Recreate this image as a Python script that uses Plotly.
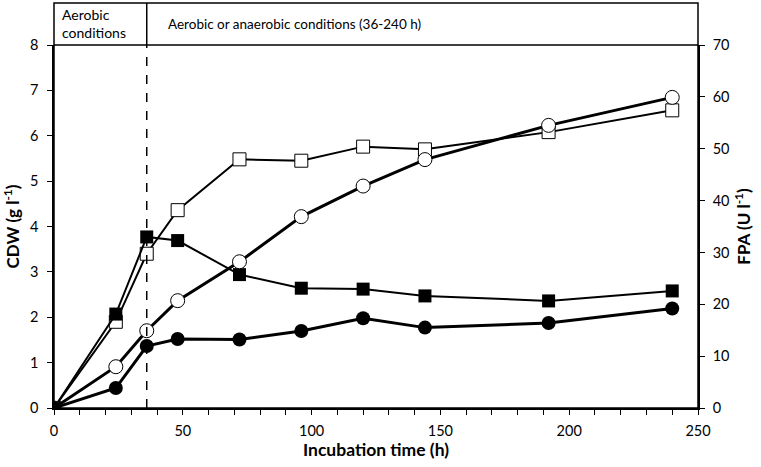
import plotly.graph_objects as go

# sampling times (h)
hours = [0, 24, 36, 48, 72, 96, 120, 144, 192, 240]

# cell dry weight (g l-1), left axis
cdw_filled = [0, 2.07, 3.77, 3.69, 2.94, 2.64, 2.62, 2.47, 2.36, 2.58]
cdw_open = [0, 1.90, 3.40, 4.36, 5.48, 5.45, 5.76, 5.70, 6.08, 6.56]

# filter paper activity (U l-1), right axis
fpa_filled = [0, 3.85, 11.95, 13.3, 13.2, 14.85, 17.3, 15.5, 16.4, 19.2]
fpa_open = [0, 7.96, 14.9, 20.7, 28.2, 36.9, 42.8, 47.9, 54.5, 59.9]

FONT = "Lato"


def main():
    fig = go.Figure()

    # squares (CDW)
    fig.add_trace(go.Scatter(
        x=hours, y=cdw_open, mode="lines+markers",
        line=dict(color="black", width=2),
        marker=dict(symbol="square", size=13, color="white",
                    line=dict(color="black", width=1)),
        showlegend=False))
    fig.add_trace(go.Scatter(
        x=hours, y=cdw_filled, mode="lines+markers",
        line=dict(color="black", width=2),
        marker=dict(symbol="square", size=13, color="black"),
        showlegend=False))

    # circles (FPA)
    fig.add_trace(go.Scatter(
        x=hours, y=fpa_open, mode="lines+markers", yaxis="y2",
        line=dict(color="black", width=3),
        marker=dict(symbol="circle", size=14, color="white",
                    line=dict(color="black", width=1)),
        showlegend=False))
    fig.add_trace(go.Scatter(
        x=hours, y=fpa_filled, mode="lines+markers", yaxis="y2",
        line=dict(color="black", width=3),
        marker=dict(symbol="circle", size=14, color="black"),
        showlegend=False))

    head = 1 + 42 / 363
    mid = (1 + head) / 2

    shapes = [
        # outer box incl. header
        dict(type="rect", xref="paper", yref="paper", x0=0, x1=1, y0=0, y1=head,
             line=dict(color="black", width=1.5)),
        dict(type="line", xref="paper", yref="paper", x0=0, x1=1, y0=1, y1=1,
             line=dict(color="black", width=1.5)),
        dict(type="line", xref="x", yref="paper", x0=36, x1=36, y0=1, y1=head,
             line=dict(color="black", width=1.5)),
        dict(type="line", xref="x", yref="paper", x0=36, x1=36, y0=0, y1=1,
             line=dict(color="black", width=1.5, dash="dash")),
    ]

    annotations = [
        dict(text="Aerobic<br>conditions", xref="x", yref="paper", x=2.5, y=mid,
             xanchor="left", yanchor="middle", showarrow=False, align="left",
             font=dict(size=14, color="black")),
        dict(text="Aerobic or anaerobic conditions (36-240 h)", xref="x", yref="paper",
             x=43.3, y=mid, xanchor="left", yanchor="middle", showarrow=False,
             font=dict(size=13.5, color="black")),
    ]

    fig.update_layout(
        width=761, height=467,
        margin=dict(l=54, r=63, t=45, b=59),
        paper_bgcolor="white", plot_bgcolor="white",
        font=dict(family=FONT, size=14.5, color="black"),
        shapes=shapes, annotations=annotations,
        xaxis=dict(
            range=[0, 250], dtick=50, tick0=0,
            ticks="outside", ticklen=5, tickwidth=1, tickcolor="black",
            ticklabelstandoff=4,
            minor=dict(dtick=10, ticks="outside", ticklen=5, tickcolor="black"),
            showgrid=False, zeroline=False, automargin=False,
            showline=True, linecolor="black", linewidth=1.5,
            title=dict(text="<b>Incubation time (h)</b>", standoff=4, font=dict(size=17.5)),
        ),
        yaxis=dict(
            range=[0, 8], dtick=1,
            ticks="outside", ticklen=5, tickcolor="black", ticklabelstandoff=6,
            showgrid=False, zeroline=False, automargin=False,
            showline=True, linecolor="black", linewidth=1.5,
            title=dict(text="<b>CDW (g l<sup>-1</sup>)</b>", standoff=6, font=dict(size=17)),
        ),
        yaxis2=dict(
            range=[0, 70], dtick=10, overlaying="y", side="right",
            ticks="outside", ticklen=5, tickcolor="black", ticklabelstandoff=5,
            showgrid=False, zeroline=False, automargin=False,
            showline=True, linecolor="black", linewidth=1.5,
            title=dict(text="<b>FPA (U l<sup>-1</sup>)</b>", standoff=10, font=dict(size=17)),
        ),
    )

    # page body has a default 8px margin; drop it so the figure sits at the window corner
    fig.write_html("out.html", config={"displayModeBar": False},
                   post_script="document.body.style.margin='0';")


if __name__ == "__main__":
    main()
